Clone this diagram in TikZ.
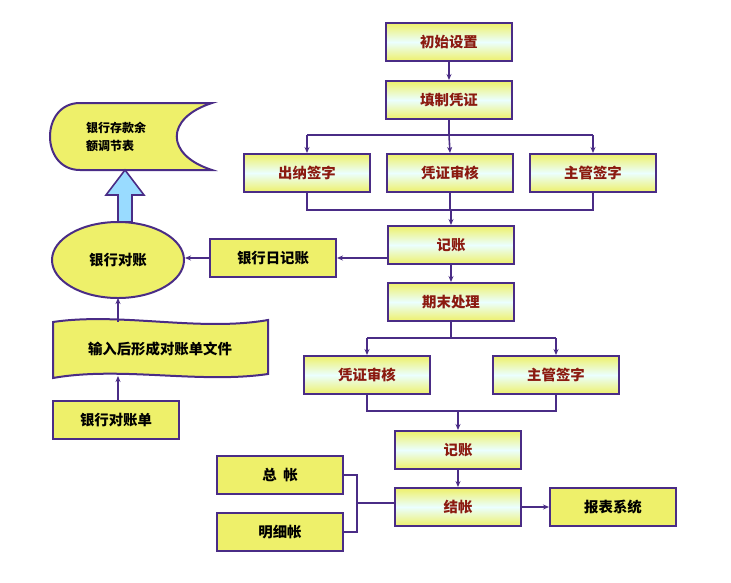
\documentclass[tikz,border=0pt]{standalone}
\usepackage{fontspec}
\newfontfamily\cjk{Noto Sans CJK SC}
\usetikzlibrary{positioning,shapes.geometric,arrows.meta}
\definecolor{edge}{HTML}{4A2C86}
\definecolor{lemon}{HTML}{EEF06A}
\definecolor{ink}{HTML}{8B1A10}

\begin{document}
\begin{tikzpicture}[x=1pt,y=-1pt,>={Stealth[length=6pt,width=5pt]}, font=\cjk\bfseries\Large]
\tikzstyle{step box}=[rectangle, draw=edge, line width=2pt, minimum width=126pt, minimum height=38pt, top color=lemon, bottom color=lemon, middle color=cyan!8, text=ink]
\tikzstyle{key box}=[rectangle, draw=edge, line width=2pt, minimum width=126pt, minimum height=38pt, fill=lemon, text=black]
\tikzstyle{link}=[draw=edge, line width=1.6pt]
\useasboundingbox (0,0) rectangle (731,582);

	\node[step box] (init)  at (449,42)  {初始设置};
	\node[step box] (fill)  at (449,100) {填制凭证};
	\node[step box] (cash)  at (307,173) {出纳签字};
	\node[step box] (audit) at (450,173) {凭证审核};
	\node[step box] (boss)  at (593,173) {主管签字};
	\node[step box] (post)  at (451,245) {记账};
	\node[step box] (term)  at (451,302) {期末处理};
	\node[step box] (audit2) at (367,375) {凭证审核};
	\node[step box] (boss2)  at (556,375) {主管签字};
	\node[step box] (post2)  at (458,450) {记账};
	\node[step box] (close)  at (458,507) {结帐};
	\node[key box]  (report) at (613,507) {报表系统};
	\node[key box]  (gl)     at (280,475) {总\ \ 帐};
	\node[key box]  (detail) at (280,532) {明细帐};
	\node[key box]  (bankday) at (273,258) {银行日记账};
	\node[key box]  (stmt)   at (116,420) {银行对账单};
	\node[ellipse, draw=edge, line width=2pt, fill=lemon, minimum width=132pt, minimum height=76pt] (recon) at (118,260) {银行对账};

	% tape-like report shape
	\draw[draw=edge, line width=2pt, fill=lemon]
		(212,103) -- (80,103) .. controls (40,103) and (40,170) .. (80,170) -- (212,170)
		.. controls (165,155) and (165,118) .. (212,103) -- cycle;
	\node[align=left, anchor=center, font=\cjk\bfseries\large] (table) at (116,137) {银行存款余\\[4pt]额调节表};

	% wavy document shape
	\draw[draw=edge, line width=2pt, fill=lemon]
		(53,322) .. controls (120,312) and (200,332) .. (268,320) -- (268,374)
		.. controls (200,384) and (120,366) .. (53,378) -- cycle;
	\node (file) at (160,349) {输入后形成对账单文件};

	% main flow
	\draw[->, link] (init) -- (fill);
	\draw[link] (fill.south) -- (449,135);
	\draw[link] (cash.north |- 0,135) -- (boss.north |- 0,135);
	\draw[->, link] (449,135) -- (audit.north);
	\draw[->, link] (cash.north |- 0,135) -- (cash.north);
	\draw[->, link] (boss.north |- 0,135) -- (boss.north);
	\draw[link] (cash.south) |- (boss.south |- 0,210) -- (boss.south);
	\draw[link] (audit.south) -- (audit.south |- 0,210);
	\draw[->, link] (451,210) -- (post);
	\draw[->, link] (post) -- (term);
	\draw[->, link] (post.west |- bankday) -- (bankday);
	\draw[->, link] (bankday.west) -- (recon.east |- bankday.west);

	% second split
	\draw[link] (term.south) -- (451,338);
	\draw[->, link] (audit2.north |- 0,338) -- (audit2.north);
	\draw[->, link] (boss2.north |- 0,338) -- (boss2.north);
	\draw[link] (audit2.north |- 0,338) -- (boss2.north |- 0,338);
	\draw[link] (audit2.south) |- (boss2.south |- 0,411) -- (boss2.south);
	\draw[->, link] (458,411) -- (post2);
	\draw[->, link] (post2) -- (close);
	\draw[->, link] (close) -- (report);
	\draw[link] (gl.east) -| (357,532) -- (detail.east);
	\draw[link] (357,503) -- (close.west |- 0,503);

	% left column
	\draw[->, link] (118,401) -- (118,376);
	\draw[->, link] (118,322) -- (118,298);
	\draw[draw=edge, line width=1.6pt, fill=blue!35!cyan!40]
		(118,222) -- (118,195) -- (106,195) -- (125,170) -- (144,195) -- (132,195) -- (132,222) -- cycle;
\end{tikzpicture}
\end{document}
